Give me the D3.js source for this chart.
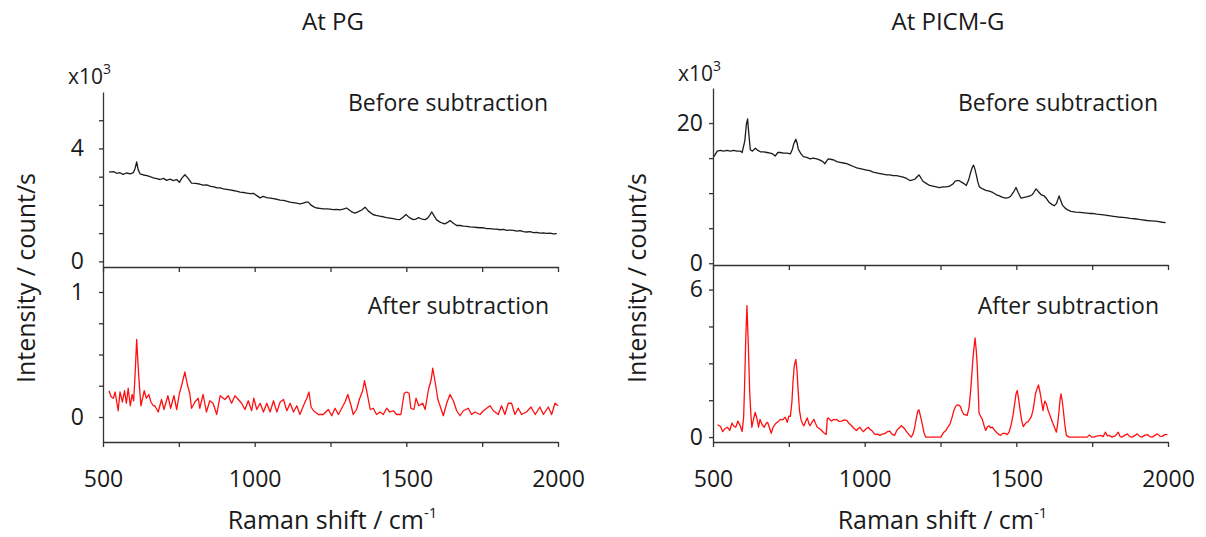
<!DOCTYPE html>
<html>
<head>
<meta charset="utf-8">
<script src="https://cdn.jsdelivr.net/npm/d3@7"></script>
<style>
body { margin: 0; background: #fff; }
svg text { font-family: "Open Sans", sans-serif; fill: #1a1a1a; }
</style>
</head>
<body>
<svg id="chart" width="1206" height="537"></svg>
<script>
// Raman spectra, [shift cm-1, intensity]; top series in x10^3 count/s
var pgBefore = [[520,3.16],[535,3.18],[545,3.12],[556,3.14],[566,3.08],[578,3.13],[590,3.10],[600,3.14],[606,3.30],[611,3.52],[616,3.25],[622,3.10],[633,3.06],[645,3.04],[655,3.00],[666,2.96],[677,2.93],[688,2.90],[699,2.94],[710,2.87],[721,2.91],[732,2.86],[743,2.90],[752,2.80],[760,2.95],[770,3.07],[780,2.95],[792,2.77],[805,2.76],[818,2.74],[830,2.70],[842,2.71],[855,2.66],[866,2.64],[876,2.60],[886,2.60],[897,2.57],[908,2.55],[918,2.53],[929,2.51],[940,2.49],[952,2.45],[963,2.44],[974,2.42],[985,2.40],[996,2.41],[1007,2.33],[1018,2.25],[1028,2.30],[1040,2.26],[1051,2.24],[1062,2.22],[1073,2.20],[1084,2.17],[1095,2.16],[1105,2.13],[1116,2.10],[1127,2.08],[1138,2.06],[1149,2.04],[1160,2.06],[1170,2.10],[1177,2.10],[1185,2.00],[1195,1.93],[1204,1.89],[1215,1.88],[1226,1.86],[1237,1.86],[1248,1.85],[1259,1.83],[1270,1.84],[1281,1.82],[1292,1.85],[1303,1.89],[1312,1.82],[1322,1.74],[1331,1.71],[1342,1.76],[1353,1.82],[1364,1.92],[1375,1.78],[1390,1.66],[1400,1.63],[1412,1.60],[1424,1.58],[1435,1.55],[1446,1.53],[1457,1.51],[1468,1.49],[1479,1.48],[1489,1.56],[1499,1.66],[1510,1.55],[1523,1.48],[1532,1.50],[1540,1.55],[1551,1.50],[1562,1.48],[1570,1.53],[1577,1.63],[1584,1.75],[1592,1.60],[1600,1.47],[1611,1.39],[1620,1.35],[1627,1.33],[1636,1.38],[1644,1.45],[1655,1.35],[1666,1.27],[1677,1.27],[1688,1.25],[1699,1.24],[1710,1.22],[1721,1.21],[1732,1.20],[1743,1.19],[1754,1.19],[1765,1.16],[1776,1.16],[1787,1.14],[1798,1.14],[1809,1.12],[1820,1.13],[1831,1.10],[1842,1.11],[1853,1.10],[1864,1.07],[1875,1.09],[1886,1.05],[1897,1.04],[1908,1.05],[1919,1.02],[1930,1.03],[1941,1.00],[1952,1.01],[1963,0.99],[1974,1.00],[1985,0.97],[1996,0.98]];

var pgAfter = [[520,0.21],[527,0.16],[534,0.15],[540,0.20],[550,0.05],[556,0.20],[564,0.12],[571,0.21],[577,0.11],[583,0.23],[590,0.09],[596,0.18],[601,0.13],[606,0.35],[611,0.62],[616,0.40],[620,0.25],[625,0.09],[636,0.21],[643,0.15],[651,0.18],[658,0.12],[666,0.09],[671,0.09],[682,0.04],[693,0.14],[701,0.06],[714,0.17],[723,0.07],[734,0.17],[743,0.06],[752,0.19],[760,0.26],[770,0.36],[778,0.26],[786,0.19],[792,0.07],[803,0.12],[814,0.15],[819,0.07],[830,0.18],[841,0.04],[852,0.13],[863,0.11],[875,0.02],[886,0.17],[902,0.14],[913,0.17],[924,0.11],[935,0.17],[946,0.14],[957,0.11],[968,0.06],[979,0.13],[990,0.05],[997,0.15],[1007,0.06],[1018,0.11],[1029,0.04],[1040,0.11],[1051,0.04],[1062,0.13],[1073,0.04],[1084,0.12],[1095,0.14],[1106,0.05],[1117,0.11],[1128,0.04],[1139,0.09],[1149,0.02],[1166,0.12],[1172,0.15],[1179,0.20],[1186,0.08],[1194,0.05],[1210,0.02],[1226,0.02],[1243,0.06],[1254,0.01],[1265,0.07],[1276,0.02],[1287,0.07],[1298,0.12],[1307,0.18],[1318,0.09],[1325,0.02],[1336,0.06],[1345,0.14],[1356,0.21],[1362,0.29],[1370,0.20],[1381,0.06],[1391,0.07],[1402,0.02],[1413,0.04],[1424,0.02],[1435,0.07],[1446,0.04],[1457,0.05],[1468,0.02],[1482,0.02],[1493,0.19],[1501,0.20],[1509,0.19],[1515,0.07],[1525,0.06],[1532,0.15],[1541,0.09],[1554,0.11],[1562,0.06],[1573,0.22],[1582,0.30],[1587,0.39],[1595,0.28],[1604,0.14],[1611,0.09],[1622,0.01],[1633,0.11],[1644,0.18],[1655,0.13],[1666,0.05],[1677,0.01],[1688,0.05],[1704,0.07],[1715,0.02],[1726,0.04],[1743,0.02],[1754,0.05],[1765,0.07],[1776,0.09],[1787,0.05],[1803,0.02],[1814,0.09],[1825,0.02],[1836,0.11],[1847,0.11],[1858,0.02],[1869,0.07],[1880,0.02],[1896,0.04],[1911,0.08],[1925,0.02],[1940,0.08],[1952,0.02],[1968,0.08],[1979,0.02],[1990,0.11],[2000,0.09]];

var picmBefore = [[503,15.2],[514,16.0],[525,16.1],[535,16.0],[546,16.1],[557,16.0],[568,16.1],[579,16.0],[590,16.0],[596,15.8],[605,17.5],[610,19.8],[614,20.6],[618,18.5],[623,16.2],[630,16.0],[640,16.4],[648,16.1],[656,15.9],[667,15.9],[678,15.8],[689,15.7],[697,15.6],[705,15.3],[714,15.8],[722,15.8],[733,15.7],[745,15.7],[755,15.6],[762,16.3],[766,17.0],[773,17.7],[777,17.2],[781,16.3],[790,15.6],[798,15.2],[809,15.1],[820,14.9],[831,15.0],[842,14.9],[853,14.7],[862,14.5],[869,14.2],[875,14.6],[880,14.9],[891,14.8],[900,14.7],[908,14.5],[919,14.4],[930,14.3],[941,14.2],[952,14.0],[963,13.8],[974,13.6],[985,13.5],[996,13.4],[1006,13.3],[1017,13.2],[1028,13.0],[1039,12.9],[1050,12.8],[1061,12.7],[1072,12.6],[1083,12.6],[1094,12.5],[1105,12.5],[1116,12.4],[1127,12.3],[1138,12.1],[1149,11.8],[1158,11.9],[1166,12.0],[1172,12.3],[1179,12.6],[1185,12.2],[1192,11.7],[1203,11.4],[1214,11.1],[1225,11.0],[1236,10.9],[1247,10.8],[1258,10.9],[1269,10.9],[1280,11.0],[1291,11.3],[1298,11.7],[1304,11.8],[1311,11.8],[1318,11.6],[1326,11.4],[1335,11.1],[1343,11.9],[1349,12.9],[1355,13.7],[1359,14.0],[1363,13.5],[1368,12.6],[1373,11.6],[1378,10.9],[1389,10.6],[1400,10.4],[1411,10.3],[1422,10.1],[1433,9.8],[1444,9.6],[1455,9.4],[1466,9.3],[1474,9.35],[1482,9.6],[1490,10.1],[1499,10.8],[1506,10.1],[1515,9.3],[1526,9.4],[1537,9.5],[1545,9.6],[1553,9.8],[1559,10.2],[1565,10.6],[1573,10.2],[1581,9.8],[1592,9.6],[1600,9.2],[1608,8.7],[1617,8.4],[1625,8.2],[1632,8.5],[1636,9.0],[1641,9.6],[1646,9.0],[1652,8.3],[1660,7.9],[1669,7.6],[1680,7.4],[1696,7.3],[1710,7.25],[1725,7.2],[1740,7.1],[1751,7.1],[1765,7.0],[1780,6.95],[1795,6.85],[1805,6.8],[1820,6.7],[1835,6.6],[1850,6.55],[1860,6.5],[1875,6.4],[1890,6.35],[1905,6.25],[1915,6.2],[1930,6.1],[1945,6.05],[1959,6.0],[1970,5.95],[1981,5.85],[1992,5.8]];

var picmAfter = [[515,0.50],[525,0.43],[532,0.22],[540,0.35],[548,0.40],[555,0.27],[563,0.57],[568,0.45],[575,0.40],[582,0.65],[590,0.45],[596,0.22],[601,0.80],[604,2.03],[608,4.0],[612,5.35],[616,3.9],[621,1.83],[625,0.9],[628,0.40],[633,0.7],[639,1.0],[645,0.75],[650,0.40],[655,0.72],[662,0.5],[669,0.40],[675,0.55],[680,0.60],[687,0.35],[692,0.15],[698,0.40],[705,0.53],[714,0.62],[722,0.72],[730,0.70],[738,0.81],[745,0.60],[750,0.85],[755,0.84],[760,1.40],[764,2.30],[768,2.9],[773,3.16],[777,2.7],[781,1.83],[785,1.10],[790,0.72],[795,0.55],[800,0.46],[806,0.65],[811,0.78],[816,0.55],[820,0.46],[827,0.62],[833,0.72],[838,0.55],[844,0.40],[851,0.35],[858,0.27],[865,0.18],[873,0.11],[877,0.75],[880,0.78],[886,0.70],[891,0.65],[897,0.72],[903,0.70],[908,0.72],[915,0.64],[924,0.65],[932,0.70],[941,0.68],[949,0.55],[957,0.46],[965,0.35],[973,0.27],[979,0.35],[984,0.40],[990,0.30],[996,0.22],[1004,0.33],[1012,0.40],[1018,0.30],[1023,0.27],[1029,0.18],[1034,0.11],[1042,0.12],[1050,0.07],[1058,0.12],[1067,0.15],[1075,0.22],[1083,0.24],[1090,0.12],[1099,0.07],[1105,0.25],[1110,0.33],[1116,0.40],[1121,0.46],[1127,0.40],[1132,0.33],[1138,0.22],[1143,0.15],[1149,0.05],[1154,0.0],[1160,0.15],[1165,0.40],[1170,0.75],[1175,1.05],[1179,1.11],[1184,0.85],[1190,0.53],[1195,0.2],[1201,0.0],[1251,0.0],[1261,0.2],[1268,0.27],[1274,0.40],[1281,0.53],[1287,0.75],[1294,1.08],[1300,1.25],[1305,1.31],[1310,1.30],[1316,1.24],[1321,1.05],[1327,0.92],[1333,0.90],[1338,0.88],[1344,1.2],[1349,1.83],[1353,2.5],[1357,3.2],[1361,3.7],[1364,4.03],[1368,3.5],[1371,2.93],[1374,2.0],[1377,0.99],[1382,0.85],[1388,0.72],[1394,0.45],[1399,0.27],[1404,0.40],[1410,0.46],[1415,0.38],[1421,0.40],[1427,0.30],[1434,0.2],[1441,0.12],[1448,0.07],[1455,0.15],[1465,0.15],[1470,0.10],[1476,0.2],[1482,0.45],[1489,0.88],[1495,1.4],[1499,1.75],[1503,1.90],[1508,1.5],[1514,0.95],[1518,0.65],[1523,0.43],[1528,0.52],[1533,0.60],[1538,0.62],[1544,0.72],[1550,0.85],[1555,1.10],[1559,1.4],[1563,1.76],[1568,1.95],[1573,2.12],[1577,1.9],[1581,1.63],[1585,1.3],[1588,1.08],[1591,1.3],[1594,1.46],[1599,1.35],[1605,1.08],[1612,0.85],[1619,0.60],[1625,0.42],[1632,0.2],[1636,0.5],[1641,1.08],[1644,1.5],[1647,1.76],[1651,1.5],[1655,1.08],[1660,0.5],[1665,0.07],[1674,0.0],[1734,0.0],[1741,0.09],[1748,0.0],[1755,0.0],[1765,0.04],[1778,0.07],[1786,0.02],[1794,0.2],[1800,0.05],[1805,0.07],[1816,0.0],[1826,0.05],[1836,0.2],[1842,0.02],[1849,0.0],[1858,0.08],[1866,0.13],[1874,0.02],[1882,0.0],[1890,0.06],[1899,0.13],[1907,0.03],[1915,0.0],[1924,0.08],[1932,0.1],[1940,0.02],[1948,0.0],[1957,0.07],[1965,0.13],[1973,0.04],[1981,0.03],[1989,0.1],[1998,0.1]];

var shiftTicks = [500, 750, 1000, 1250, 1500, 1750, 2000];
var shiftLabels = [500, 1000, 1500, 2000];

var pgTopTicks = [0, 1, 2, 3, 4, 5];
var pgTopLabels = [0, 4];
var pgBottomTicks = [0, 0.25, 0.5, 0.75, 1];
var pgBottomLabels = [0, 1];
var picmTopTicks = [0, 5, 10, 15, 20];
var picmTopLabels = [0, 20];
var picmBottomTicks = [0, 1.5, 3, 4.5, 6];
var picmBottomLabels = [0, 6];

var svg = d3.select("#chart");

drawPanel({
    title: "At PG", centerX: 333,
    x0: 103, x1: 558, top: 92, mid: 267, bottom: 442,
    topDomain: [-0.2, 6], bottomDomain: [-0.2, 1.2],
    topTicks: pgTopTicks, topLabels: pgTopLabels,
    bottomTicks: pgBottomTicks, bottomLabels: pgBottomLabels,
    before: pgBefore, after: pgAfter,
    labelPad: 15, exponentX: 68, exponentY: 84, yTitleX: 26
});

drawPanel({
    title: "At PICM-G", centerX: 948,
    x0: 713, x1: 1168, top: 88, mid: 265, bottom: 442,
    topDomain: [-0.25, 25], bottomDomain: [-0.2, 7],
    topTicks: picmTopTicks, topLabels: picmTopLabels,
    bottomTicks: picmBottomTicks, bottomLabels: picmBottomLabels,
    before: picmBefore, after: picmAfter,
    labelPad: 6, exponentX: 678, exponentY: 81, yTitleX: 637
});

function drawPanel(p) {
    var x = d3.scaleLinear().domain([500, 2000]).range([p.x0, p.x1]);
    var yTop = d3.scaleLinear().domain(p.topDomain).range([p.mid, p.top]);
    var yBottom = d3.scaleLinear().domain(p.bottomDomain).range([p.bottom, p.mid]);

    drawYAxis(yTop, p.topTicks, p.topLabels, p);
    drawYAxis(yBottom, p.bottomTicks, p.bottomLabels, p);

    drawXAxis(x, p.mid, false);
    drawXAxis(x, p.bottom, true);

    drawSpectrum(p.before, x, yTop, "#1c1c1c");
    drawSpectrum(p.after, x, yBottom, "#ff1010");

    svg.append("text")
        .attr("x", p.centerX)
        .attr("y", 30)
        .attr("text-anchor", "middle")
        .style("font-size", "24px")
        .text(p.title);

    var exponent = svg.append("text")
        .attr("x", p.exponentX)
        .attr("y", p.exponentY)
        .style("font-size", "21px")
        .text("x10");
    exponent.append("tspan")
        .attr("dy", -10)
        .style("font-size", "14px")
        .text("3");

    drawNote("Before subtraction", p.x1 - 10, 111);
    drawNote("After subtraction", p.x1 - 9, 314);

    svg.append("text")
        .attr("transform", "translate(" + p.yTitleX + "," + 278 + ") rotate(-90)")
        .attr("text-anchor", "middle")
        .attr("dy", "0.35em")
        .style("font-size", "25px")
        .text("Intensity / count/s");

    var xTitle = svg.append("text")
        .attr("x", (p.x0 + p.x1) / 2 + 2)
        .attr("y", 529)
        .attr("text-anchor", "middle")
        .style("font-size", "25px")
        .text("Raman shift / cm");
    xTitle.append("tspan")
        .attr("dy", -11)
        .style("font-size", "15px")
        .text("-1");
}

function drawYAxis(y, ticks, labels, p) {
    var axis = d3.axisLeft(y)
        .tickValues(ticks)
        .tickSize(4)
        .tickSizeOuter(0)
        .tickPadding(p.labelPad)
        .tickFormat(function(d) { return labels.indexOf(d) >= 0 ? d : ""; });

    var g = svg.append("g")
        .attr("transform", "translate(" + p.x0 + ",0)")
        .call(axis);
    styleAxis(g);
}

function drawXAxis(x, yPos, withLabels) {
    var axis = d3.axisBottom(x)
        .tickValues(shiftTicks)
        .tickSize(5)
        .tickSizeOuter(0)
        .tickPadding(24)
        .tickFormat(function(d) { return withLabels && shiftLabels.indexOf(d) >= 0 ? d : ""; });

    var g = svg.append("g")
        .attr("transform", "translate(0," + yPos + ")")
        .call(axis);
    styleAxis(g);
}

function styleAxis(g) {
    g.selectAll("path, line")
        .attr("stroke", "#333")
        .attr("stroke-width", 1.3);
    g.selectAll("text")
        .style("font-size", "23px")
        .style("font-family", "'Open Sans', sans-serif")
        .attr("fill", "#1a1a1a");
}

function drawSpectrum(points, x, y, color) {
    var line = d3.line()
        .x(function(d) { return x(d[0]); })
        .y(function(d) { return y(d[1]); });

    svg.append("path")
        .datum(points)
        .attr("d", line)
        .attr("fill", "none")
        .attr("stroke", color)
        .attr("stroke-width", 1.3)
        .attr("stroke-linejoin", "round");
}

function drawNote(message, xEnd, yPos) {
    svg.append("text")
        .attr("x", xEnd)
        .attr("y", yPos)
        .attr("text-anchor", "end")
        .style("font-size", "23px")
        .text(message);
}
</script>
</body>
</html>
